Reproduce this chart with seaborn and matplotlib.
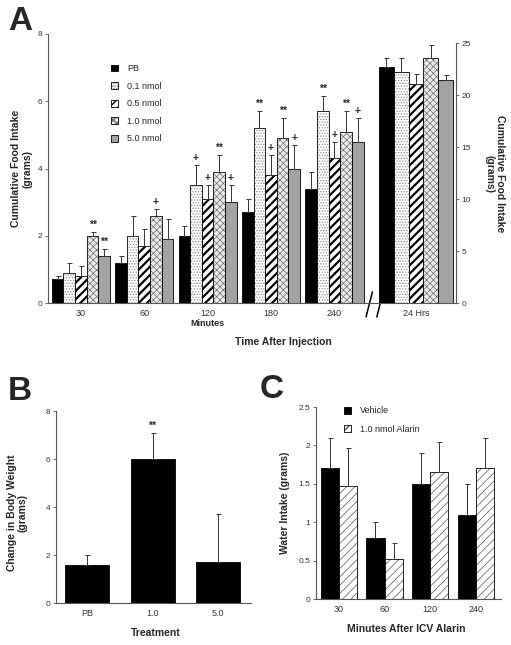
import numpy as np
import pandas as pd
import matplotlib
matplotlib.use('Agg')
import matplotlib.pyplot as plt
import matplotlib.colors as mcolors
import matplotlib.transforms as mtransforms
from matplotlib.patches import Patch
from matplotlib.ticker import FuncFormatter
import seaborn as sns

sns.set_style('ticks')
plt.rcParams['font.family'] = ['Liberation Sans', 'DejaVu Sans']

# ---- Panel A data: cumulative food intake (grams)
times = ['30', '60', '120', '180', '240']
doses = ['PB', '0.1 nmol', '0.5 nmol', '1.0 nmol', '5.0 nmol']
pb_vals = [0.7, 1.2, 2.0, 2.7, 3.4]
d01_vals = [0.9, 2.0, 3.5, 5.2, 5.7]
d05_vals = [0.8, 1.7, 3.1, 3.8, 4.3]
d10_vals = [2.0, 2.6, 3.9, 4.9, 5.1]
d50_vals = [1.4, 1.9, 3.0, 4.0, 4.8]
pb_err = [0.1, 0.2, 0.3, 0.4, 0.5]
d01_err = [0.3, 0.6, 0.6, 0.5, 0.45]
d05_err = [0.3, 0.5, 0.4, 0.6, 0.5]
d10_err = [0.1, 0.2, 0.5, 0.6, 0.6]
d50_err = [0.2, 0.6, 0.5, 0.7, 0.7]
pb_sig = ['', '', '', '', '']
d01_sig = ['', '', '+', '**', '**']
d05_sig = ['', '', '+', '+', '+']
d10_sig = ['**', '+', '**', '**', '**']
d50_sig = ['**', '', '+', '+', '+']
# 24 hrs (right axis)
day_label = '24 Hrs'
day_vals = [22.7, 22.2, 21.05, 23.6, 21.4]
day_err = [0.9, 1.4, 0.95, 1.2, 0.55]

# ---- Panel B data: change in body weight
treatments = ['PB', '1.0', '5.0']
bw_vals = [1.6, 6.0, 1.7]
bw_err = [0.4, 1.1, 2.0]
bw_sig = ['', '**', '']

# ---- Panel C data: water intake
water_times = ['30', '60', '120', '240']
groups_c = ['Vehicle', '1.0 nmol Alarin']
veh_vals = [1.7, 0.8, 1.5, 1.1]
alarin_vals = [1.47, 0.52, 1.65, 1.7]
veh_err = [0.4, 0.2, 0.4, 0.4]
alarin_err = [0.49, 0.21, 0.4, 0.4]

# styles
dose_face = {'PB': 'black', '0.1 nmol': 'white', '0.5 nmol': 'white',
             '1.0 nmol': '#ececec', '5.0 nmol': '#a3a3a3'}
dose_hatch = [None, '......', '////', 'xxxxx', None]
dose_hcol = ['black', '#8c8c8c', 'black', '#6e6e6e', 'black']
dose_hlw = [1, 0.6, 1.6, 0.5, 1]

GRID = '#555555'
TXT = '#333333'


def style_bar(bar, hatch, hcol, hlw):
    if hatch:
        bar.set_hatch(hatch)
        if hasattr(bar, 'set_hatchcolor'):
            bar.set_hatchcolor(hcol)
        else:
            bar._hatch_color = mcolors.to_rgba(hcol)
        if hasattr(bar, 'set_hatch_linewidth'):
            bar.set_hatch_linewidth(hlw)


def add_err(ax, bars, errs, marks=None):
    if marks is None:
        marks = [''] * len(errs)
    for bar, e, m in zip(bars, errs, marks):
        x = bar.get_x() + bar.get_width() / 2
        h = bar.get_height()
        ax.errorbar(x, h, yerr=[[0], [e]], fmt='none', ecolor='#333333',
                    elinewidth=0.7, capsize=1.8, capthick=0.7, zorder=3)
        if m:
            ax.annotate(m, (x, h + e), xytext=(0, 1.5), textcoords='offset points',
                        ha='center', va='bottom', fontsize=7.5, fontweight='bold')


def basic_axes(ax):
    for s in ['left', 'bottom']:
        ax.spines[s].set_color(GRID)
        ax.spines[s].set_linewidth(0.8)
    ax.tick_params(axis='y', length=2.5, width=0.6, color=GRID, labelsize=6, labelcolor=TXT, pad=1.5)
    ax.tick_params(axis='x', length=0, labelsize=6.5, labelcolor=TXT, pad=4)


fig = plt.figure(figsize=(5.11, 6.45), dpi=100)
W, H = 511, 645


def px_axes(l, t, r, b):
    return fig.add_axes([l / W, 1 - b / H, (r - l) / W, (b - t) / H])


# ================= Panel A
axA = px_axes(48, 34, 456, 303)
x_pos = [0, 1, 2, 3, 4]
pos_24 = 5.29
all_vals = [pb_vals, d01_vals, d05_vals, d10_vals, d50_vals]
all_err = [pb_err, d01_err, d05_err, d10_err, d50_err]
all_sig = [pb_sig, d01_sig, d05_sig, d10_sig, d50_sig]

dfA = pd.DataFrame({'pos': np.tile(x_pos, len(doses)),
                    'dose': np.repeat(doses, len(times)),
                    'intake': np.concatenate(all_vals)})
sns.barplot(data=dfA, x='pos', y='intake', hue='dose', hue_order=doses,
            palette=dose_face, native_scale=True, width=0.92, errorbar=None,
            edgecolor='black', linewidth=0.6, legend=False, ax=axA)
bar_conts = list(axA.containers)
for i, cont in enumerate(bar_conts):
    for bar in cont:
        style_bar(bar, dose_hatch[i], dose_hcol[i], dose_hlw[i])
    add_err(axA, cont, all_err[i], all_sig[i])

axA2 = axA.twinx()
df24 = pd.DataFrame({'pos': [pos_24] * len(doses), 'dose': doses, 'intake': day_vals})
sns.barplot(data=df24, x='pos', y='intake', hue='dose', hue_order=doses,
            palette=dose_face, native_scale=True, width=1.17, errorbar=None,
            edgecolor='black', linewidth=0.6, legend=False, ax=axA2)
bar_conts2 = list(axA2.containers)
for i, cont in enumerate(bar_conts2):
    for bar in cont:
        style_bar(bar, dose_hatch[i], dose_hcol[i], dose_hlw[i])
    add_err(axA2, cont, [day_err[i]])

axA.set_xlim(-0.52, 5.92)
axA.set_ylim(0, 8)
axA.set_yticks([0, 2, 4, 6, 8])
axA2.set_ylim(0, 25 * 269 / 260)
axA2.set_yticks([0, 5, 10, 15, 20, 25])
axA.set_xticks(x_pos + [pos_24])
axA.set_xticklabels(times + [day_label])
basic_axes(axA)
for s in ['top', 'right']:
    axA.spines[s].set_visible(False)
for s in ['top', 'left', 'bottom']:
    axA2.spines[s].set_visible(False)
axA2.spines['right'].set_color(GRID)
axA2.spines['right'].set_linewidth(0.8)
axA2.spines['right'].set_bounds(0, 25)
axA2.tick_params(axis='y', length=2.5, width=0.6, color=GRID, labelsize=6, labelcolor=TXT, pad=1.5)
axA.set_xlabel('')
axA.set_ylabel('Cumulative Food Intake\n(grams)', fontsize=7.5, fontweight='bold',
               linespacing=1.1, va='center')
axA.yaxis.set_label_coords(-0.064, 0.5)
axA2.set_ylabel('Cumulative Food Intake\n(grams)', fontsize=7.5, fontweight='bold',
                rotation=-90, linespacing=1.1, va='center')
axA2.yaxis.set_label_coords(1.095, 0.48)
axA2.set_xlabel('')

axA.text(0.392, -0.078, 'Minutes', transform=axA.transAxes, ha='center', va='center',
         fontsize=6.5, fontweight='bold')
axA.text(0.576, -0.145, 'Time After Injection', transform=axA.transAxes, ha='center',
         va='center', fontsize=7.5, fontweight='bold')

# axis break marks
trans = mtransforms.blended_transform_factory(axA.transData, axA.transAxes)
for bx in [4.55, 4.72]:
    axA.plot([bx - 0.05, bx + 0.05], [-0.052, 0.041], transform=trans, color='black',
             lw=1.1, clip_on=False)

handlesA = []
for i, d in enumerate(doses):
    p = Patch(facecolor=dose_face[d], edgecolor='black', linewidth=0.6)
    style_bar(p, dose_hatch[i], dose_hcol[i], dose_hlw[i])
    handlesA.append(p)
axA.legend(handlesA, doses, loc='upper left', bbox_to_anchor=(0.135, 0.918), frameon=False,
           fontsize=6.5, handlelength=0.8, handleheight=0.8, handletextpad=1.0,
           labelspacing=0.95, borderpad=0.4)

fig.text(20 / W, 1 - 21 / H, 'A', fontsize=24, fontweight='bold', ha='center', va='center')

# ================= Panel B
axB = px_axes(56, 411, 251, 603)
dfB = pd.DataFrame({'treatment': treatments, 'weight': bw_vals})
sns.barplot(data=dfB, x='treatment', y='weight', order=treatments, color='black',
            width=0.67, errorbar=None, edgecolor='black', linewidth=0.6, ax=axB)
add_err(axB, list(axB.containers[0]), bw_err, bw_sig)
axB.set_xlim(-0.47, 2.5)
axB.set_ylim(0, 8)
axB.set_yticks([0, 2, 4, 6, 8])
basic_axes(axB)
sns.despine(ax=axB)
axB.set_ylabel('Change in Body Weight\n(grams)', fontsize=7.5, fontweight='bold',
               linespacing=1.1, va='center')
axB.yaxis.set_label_coords(-0.197, 0.47)
axB.set_xlabel('')
axB.text(0.51, -0.156, 'Treatment', transform=axB.transAxes, ha='center', va='center',
         fontsize=7.5, fontweight='bold')
fig.text(20 / W, 1 - 391 / H, 'B', fontsize=24, fontweight='bold', ha='center', va='center')

# ================= Panel C
axC = px_axes(316, 407, 501, 599)
dfC = pd.DataFrame({'minutes': water_times * 2,
                    'group': np.repeat(groups_c, len(water_times)),
                    'water': veh_vals + alarin_vals})
c_face = {'Vehicle': 'black', '1.0 nmol Alarin': 'white'}
c_hatch = [None, '////']
c_hcol = ['black', '#555555']
c_hlw = [1, 0.5]
sns.barplot(data=dfC, x='minutes', y='water', hue='group', order=water_times,
            hue_order=groups_c, palette=c_face, width=0.8, errorbar=None,
            edgecolor='black', linewidth=0.6, legend=False, ax=axC)
bar_contsC = list(axC.containers)
for i, (cont, errs) in enumerate(zip(bar_contsC, [veh_err, alarin_err])):
    for bar in cont:
        style_bar(bar, c_hatch[i], c_hcol[i], c_hlw[i])
    add_err(axC, cont, errs)
axC.set_xlim(-0.5, 3.55)
axC.set_ylim(0, 2.5)
axC.set_yticks([0, 0.5, 1, 1.5, 2, 2.5])
axC.yaxis.set_major_formatter(FuncFormatter(lambda v, p: '%g' % v))
basic_axes(axC)
sns.despine(ax=axC)
axC.set_ylabel('Water Intake (grams)', fontsize=7.5, fontweight='bold', va='center')
axC.yaxis.set_label_coords(-0.168, 0.5)
axC.set_xlabel('')
axC.text(0.49, -0.156, 'Minutes After ICV Alarin', transform=axC.transAxes, ha='center',
         va='center', fontsize=7.5, fontweight='bold')
handlesC = []
for i, g in enumerate(groups_c):
    p = Patch(facecolor=c_face[g], edgecolor='black', linewidth=0.6)
    style_bar(p, c_hatch[i], c_hcol[i], c_hlw[i])
    handlesC.append(p)
axC.legend(handlesC, groups_c, loc='upper left', bbox_to_anchor=(0.108, 1.045), frameon=False,
           fontsize=6.5, handlelength=0.8, handleheight=0.8, handletextpad=1.0,
           labelspacing=1.0, borderpad=0.4)
fig.text(272 / W, 1 - 389 / H, 'C', fontsize=24, fontweight='bold', ha='center', va='center')

fig.savefig('out.png', dpi=100)
